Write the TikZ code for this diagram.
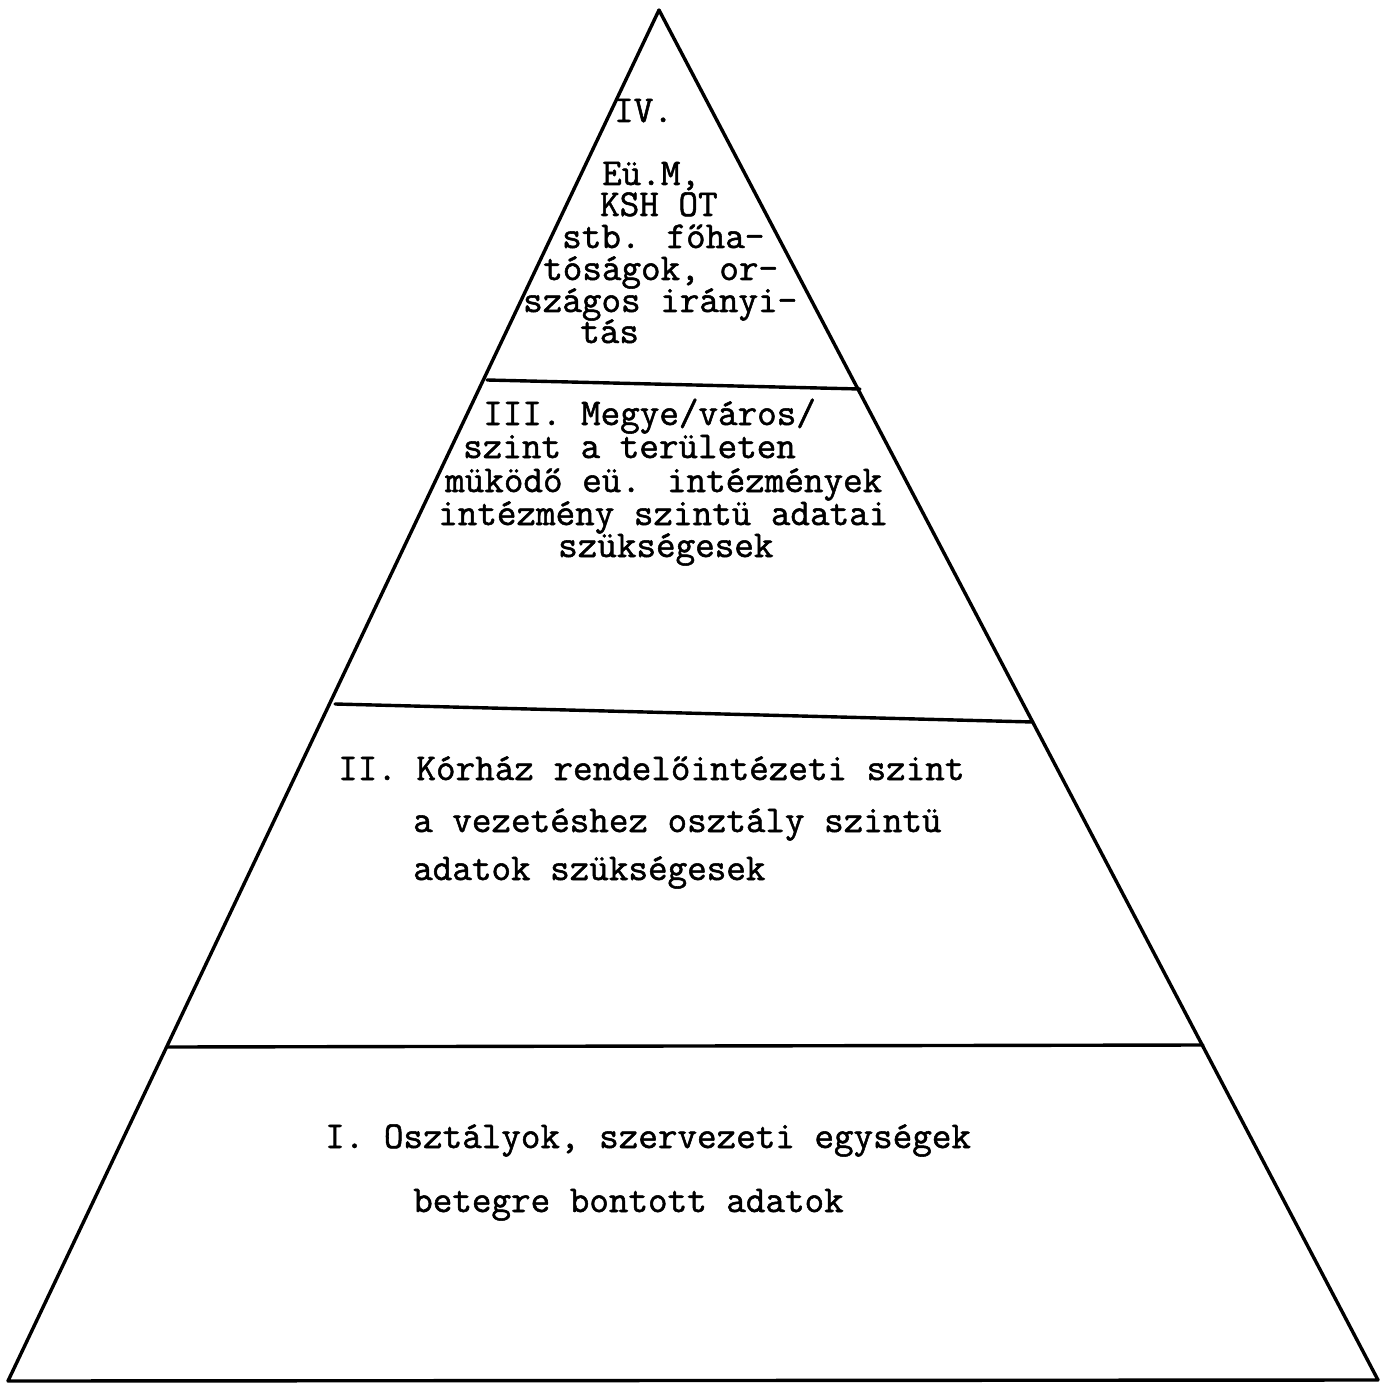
\documentclass[tikz,border=0pt]{standalone}
\usepackage{fontspec}
\newfontfamily\twfont{Latin Modern Mono}[RawFeature={embolden=1.4}]
\begin{document}
\begin{tikzpicture}[x=1pt,y=-1pt,
  edge/.style={line width=3.4pt,line join=round,line cap=round},
  tw/.style={anchor=base west,inner sep=0pt,font=\fontsize{38}{38}\twfont}]
\useasboundingbox (0,0) rectangle (1390,1388);
% outline
\coordinate (apex) at (659,10);
\coordinate (bl) at (8,1381);
\coordinate (br) at (1378,1380);
\draw[edge] (apex) -- (bl) -- (br) -- cycle;
% level dividers
\coordinate (a1) at (487,380);
\coordinate (b1) at (860,389);
\coordinate (a2) at (335,704);
\coordinate (b2) at (1033,722);
\coordinate (a3) at (168,1047);
\coordinate (b3) at (1203,1045);
\draw[edge] (a1) -- (b1);
\draw[edge] (a2) -- (b2);
\draw[edge] (a3) -- (b3);
% IV
\node[tw] (t4a) at (614,122) {IV.};
\node[tw] (t4b) at (602,185) {Eü.M,};
\node[tw] (t4c) at (600,216) {KSH OT};
\node[tw] (t4d) at (562,248) {stb. főha-};
\node[tw] (t4e) at (543,280) {tóságok, or-};
\node[tw] (t4f) at (523,312) {szágos irányi-};
\node[tw] (t4g) at (580,343) {tás};
% III
\node[tw] (t3a) at (483,425) {III. Megye/város/};
\node[tw] (t3b) at (463,458) {szint a területen};
\node[tw] (t3c) at (445,492) {müködő eü. intézmények};
\node[tw] (t3d) at (438,525) {intézmény szintü adatai};
\node[tw] (t3e) at (558,557) {szükségesek};
% II
\node[tw] (t2a) at (338,780) {II. Kórház rendelőintézeti szint};
\node[tw] (t2b) at (413,832) {a vezetéshez osztály szintü};
\node[tw] (t2c) at (413,880) {adatok szükségesek};
% I
\node[tw] (t1a) at (325,1148) {I. Osztályok, szervezeti egységek};
\node[tw] (t1b) at (413,1212) {betegre bontott adatok};
\end{tikzpicture}
\end{document}
